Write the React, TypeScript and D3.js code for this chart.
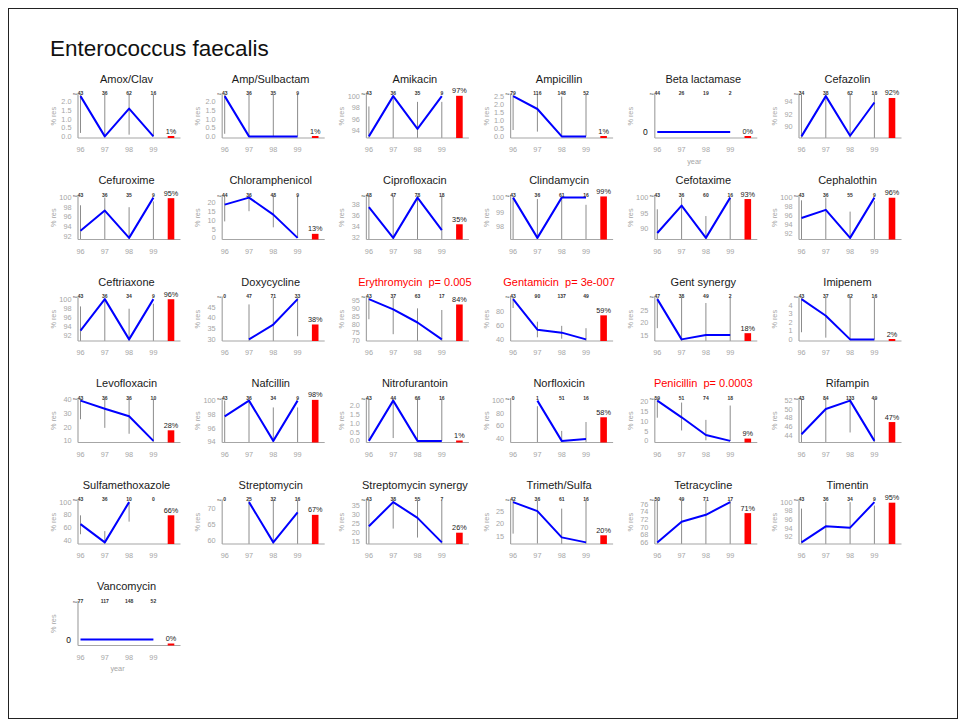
import React from "react";
import * as d3 from "d3";

const years = ["96", "97", "98", "99"];

const drugs = [
  "Amox/Clav", "Amp/Sulbactam", "Amikacin", "Ampicillin", "Beta lactamase", "Cefazolin",
  "Cefuroxime", "Chloramphenicol", "Ciprofloxacin", "Clindamycin", "Cefotaxime", "Cephalothin",
  "Ceftriaxone", "Doxycycline", "Erythromycin", "Gentamicin", "Gent synergy", "Imipenem",
  "Levofloxacin", "Nafcillin", "Nitrofurantoin", "Norfloxicin", "Penicillin", "Rifampin",
  "Sulfamethoxazole", "Streptomycin", "Streptomycin synergy", "Trimeth/Sulfa", "Tetracycline", "Timentin",
  "Vancomycin",
];

const pValues: (string | null)[] = [
  null, null, null, null, null, null,
  null, null, null, null, null, null,
  null, null, "0.005", "3e-007", null, null,
  null, null, null, null, "0.0003", null,
  null, null, null, null, null, null,
  null,
];

const nCounts: number[][] = [
  [43, 36, 62, 16], [43, 36, 35, 9], [43, 36, 35, 9], [79, 116, 148, 52], [44, 26, 19, 2], [34, 38, 62, 16],
  [43, 36, 35, 9], [44, 36, 48, 9], [48, 47, 78, 18], [43, 36, 61, 16], [43, 36, 60, 16], [43, 36, 55, 9],
  [43, 36, 34, 9], [0, 47, 71, 33], [43, 37, 63, 17], [43, 90, 137, 49], [47, 38, 49, 2], [43, 37, 62, 16],
  [43, 36, 36, 10], [43, 36, 34, 9], [43, 44, 66, 16], [0, 1, 51, 16], [59, 51, 74, 18], [43, 84, 133, 49],
  [43, 36, 10, 0], [0, 25, 32, 16], [43, 38, 55, 7], [42, 36, 61, 16], [50, 49, 71, 17], [43, 36, 34, 9],
  [77, 117, 148, 52],
];

const resistance: (number | null)[][] = [
  [2.33, 0, 1.61, 0], [2.33, 0, 0, 0], [93.0, 100, 94.3, 100], [2.53, 1.72, 0, 0], [0, 0, 0, 0], [88.5, 94.8, 88.6, 93.8],
  [93.1, 97.3, 91.6, 100], [18.6, 22.5, 13.0, 0], [37.5, 32.0, 39.2, 33.4], [100, 97.2, 100, 100], [88.5, 97.4, 86.9, 100], [95.5, 97.3, 91.1, 100],
  [93.1, 100, 91.2, 100], [null, 29.8, 36.8, 48.8], [95.6, 89.3, 81.2, 70.8], [97.5, 53.5, 49.2, 39.5], [29.7, 13.2, 15.0, 15.0], [4.68, 2.75, 0, 0],
  [39.4, 33.5, 28.0, 10], [97.7, 100, 94.1, 100], [0, 2.27, 0, 0], [null, 100, 35.5, 38.5], [20.5, 12.0, 3.0, 0], [44.3, 50.0, 51.9, 42.8],
  [65.1, 36.1, 100, null], [null, 72.0, 59.4, 68.8], [23.3, 36.8, 28.0, 14.3], [28.6, 25.0, 14.5, 12.5], [66.0, 71.4, 73.2, 76.5], [90.7, 94.4, 94.1, 100],
  [0, 0, 0, 0],
];

const ciLow: (number | null)[][] = [
  [0.2, 0, 0.1, 0], [0.15, 0, 0, 0], [81, 90, 81, 66], [0.4, 0.3, 0, 0], [null, null, null, null], [72, 82, 78, 70],
  [81, 85, 77, 66], [9.2, 14.9, 5.9, 0], [24, 19, 28, 13], [92, 85, 94, 79], [75, 85, 75, 79], [84, 85, 80, 66],
  [81, 90, 80, 66], [null, 17, 26, 31.3], [83.2, 74.0, 69, 46], [84.7, 42.5, 40.5, 25], [17.8, 5, 7, 1], [0.83, 0.2, 0, 0],
  [25.8, 19.5, 15.2, 0.25], [88, 90, 80, 66], [0, 0.16, 0, 0], [null, 2.5, 22, 15], [11.8, 5.3, 0.3, 0], [29, 39, 44.7, 29],
  [49, 21, 69, null], [null, 51, 41, 41], [13, 22, 17, 0.4], [16, 12, 7, 1.6], [51, 57, 61, 50], [78, 81, 80, 66],
  [null, null, null, null],
];

const ciHigh: (number | null)[][] = [
  [12, 10, 9, 21], [12, 10, 10, 34], [98.2, 100, 99.0, 99.0], [9, 6, 2.5, 7], [null, null, null, null], [97, 99, 95.5, 99.8],
  [98.4, 100, 98.0, 99.2], [33, 39, 25, 34], [52, 47, 51, 59], [100, 99.9, 100, 99.5], [96.2, 100, 94.0, 100], [99.4, 100, 96.9, 99.2],
  [98.4, 100, 97.9, 99.0], [null, 46.3, 52, 66], [99.5, 97, 89.9, 88.9], [99.9, 65, 59, 55.6], [45, 40, 28.1, 99], [16, 14, 5.8, 20],
  [55, 51, 45, 45], [100, 100, 99.0, 99.0], [8, 12, 5.4, 20], [null, 91, 51.5, 65.7], [33, 19.5, 10.7, 18], [60, 61, 60.5, 57],
  [79, 54, 100, null], [null, 88, 75, 89], [38, 54, 42, 58], [44, 42, 26, 38], [79, 83, 83, 93], [98.5, 100, 100, 99.2],
  [null, null, null, null],
];

const yTicks: string[][] = [
  ["0.0", "0.5", "1.0", "1.5", "2.0"], ["0.0", "0.5", "1.0", "1.5", "2.0"], ["94", "96", "98", "100"],
  ["0.0", "0.5", "1.0", "1.5", "2.0", "2.5"], ["0"], ["90", "92", "94"],
  ["92", "94", "96", "98", "100"], ["0", "5", "10", "15", "20"], ["32", "34", "36", "38"],
  ["98", "99", "100"], ["90", "95", "100"], ["92", "94", "96", "98", "100"],
  ["92", "94", "96", "98", "100"], ["30", "35", "40", "45"], ["70", "75", "80", "85", "90", "95"],
  ["40", "60", "80"], ["15", "20", "25"], ["0", "1", "2", "3", "4"],
  ["10", "20", "30", "40"], ["94", "96", "98", "100"], ["0.0", "0.5", "1.0", "1.5", "2.0"],
  ["40", "60", "80", "100"], ["0", "5", "10", "15", "20"], ["44", "46", "48", "50", "52"],
  ["40", "60", "80", "100"], ["60", "65", "70"], ["15", "20", "25", "30", "35"],
  ["15", "20", "25"], ["66", "68", "70", "72", "74", "76"], ["92", "94", "96", "98", "100"],
  ["0"],
];

const overallPct = [
  1, 1, 97, 1, 0, 92,
  95, 13, 35, 99, 93, 96,
  96, 38, 84, 59, 18, 2,
  28, 98, 1, 58, 9, 47,
  66, 67, 26, 20, 71, 95,
  0,
];

const yearLabelPanels = ["Beta lactamase", "Vancomycin"];

const FONT = "'Liberation Sans', Arial, Helvetica, sans-serif";
const COLS = 6;
const COL_W = 144.2;
const ROW_H = 101.5;
const X0 = 80.5;
const BOTTOM0 = 138;
const PLOT_H = 43.5;
const STEP = 24.3;
const GRAY = "#a6a6a6";

function Panel({ i }: { i: number }) {
  const c = i % COLS;
  const r = Math.floor(i / COLS);
  const x96 = X0 + c * COL_W;
  const bottom = BOTTOM0 + r * ROW_H;
  const top = bottom - PLOT_H;
  const left = x96 - 2.5;
  const right = x96 + 100;
  const x = d3.scaleLinear().domain([0, 3]).range([x96, x96 + 3 * STEP]);
  const vals = resistance[i];
  const present = vals.filter((v) => v != null) as number[];
  const [mn, mx] = d3.extent(present) as [number, number];
  let dom: [number, number];
  const flat = mx - mn === 0;
  if (flat) dom = [mn - 0.16, mn + 1];
  else {
    const p = (mx - mn) * 0.04;
    dom = [mn - p, mx + p];
  }
  const y = d3.scaleLinear().domain(dom).range([bottom, top]);
  const clampY = (v: number) => y(Math.max(dom[0], Math.min(dom[1], v)));
  const line = d3
    .line<number | null>()
    .defined((d) => d != null)
    .x((_, k) => x(k))
    .y((d) => y(d as number));
  const barX = x96 + 90.5;
  const barH = Math.max(2, (overallPct[i] / 100) * PLOT_H);
  const title = pValues[i] ? `${drugs[i]}  p= ${pValues[i]}` : drugs[i];
  const titleColor = pValues[i] ? "#ff0000" : "#1a1a1a";

  return (
    <g fontFamily={FONT}>
      <text x={x96 + 46} y={bottom - 55.5} textAnchor="middle" fontSize={11} fill={titleColor} style={{ whiteSpace: "pre" }}>
        {title}
      </text>
      {years.map((_, k) => {
        const lo = ciLow[i][k];
        const hi = ciHigh[i][k];
        if (lo == null || hi == null) return null;
        return (
          <line key={"ci" + k} x1={x(k)} x2={x(k)} y1={clampY(lo)} y2={clampY(hi)} stroke="#8c8c8c" strokeWidth={1} />
        );
      })}
      <line x1={left} x2={left} y1={top - 1} y2={bottom} stroke={GRAY} strokeWidth={1.2} />
      <line x1={left} x2={right} y1={bottom} y2={bottom} stroke={GRAY} strokeWidth={1.2} />
      {yTicks[i].map((t) =>
        flat ? (
          <text key={t} x={left - 7} y={y(+t) + 3} textAnchor="end" fontSize={8.5} fill="#111">
            {t}
          </text>
        ) : (
          <text key={t} x={left - 6.5} y={y(+t) + 2.6} textAnchor="end" fontSize={7.3} fill={GRAY}>
            {t}
          </text>
        )
      )}
      <text
        transform={`translate(${x96 - 24.5},${top + PLOT_H / 2}) rotate(-90)`}
        textAnchor="middle"
        fontSize={7.3}
        fill={GRAY}
      >
        % res
      </text>
      {years.map((yr, k) => (
        <text key={yr} x={x(k)} y={bottom + 14} textAnchor="middle" fontSize={7.3} fill={GRAY}>
          {yr}
        </text>
      ))}
      {yearLabelPanels.includes(drugs[i]) && (
        <text x={x96 + 37} y={bottom + 25.5} textAnchor="middle" fontSize={7.3} fill={GRAY}>
          year
        </text>
      )}
      <path d={line(vals) || ""} fill="none" stroke="#0000ff" strokeWidth={2} strokeLinejoin="round" />
      <rect x={barX - 3.3} y={bottom - barH} width={6.6} height={barH} fill="#ff0000" />
      <text x={barX} y={bottom - barH - 2.5} textAnchor="middle" fontSize={7.3} fill="#222">
        {overallPct[i]}%
      </text>
      <text x={x(0) - 3.5} y={bottom - 43} textAnchor="end" fontSize={3.5} fill="#333">
        n=
      </text>
      {nCounts[i].map((n, k) => (
        <text key={"n" + k} x={x(k)} y={bottom - 43} textAnchor="middle" fontSize={5} fontWeight="bold" fill="#333">
          {n}
        </text>
      ))}
    </g>
  );
}

export default function App() {
  return (
    <svg width={965} height={723} style={{ position: "absolute", left: 0, top: 0 }}>
      <rect x={0} y={0} width={965} height={723} fill="#ffffff" />
      <rect x={8.5} y={8.5} width={949} height={710} fill="none" stroke="#222" strokeWidth={1} />
      <text x={50} y={56} fontFamily={FONT} fontSize={22.5} fill="#111">
        Enterococcus faecalis
      </text>
      {drugs.map((_, i) => (
        <Panel key={i} i={i} />
      ))}
    </svg>
  );
}
